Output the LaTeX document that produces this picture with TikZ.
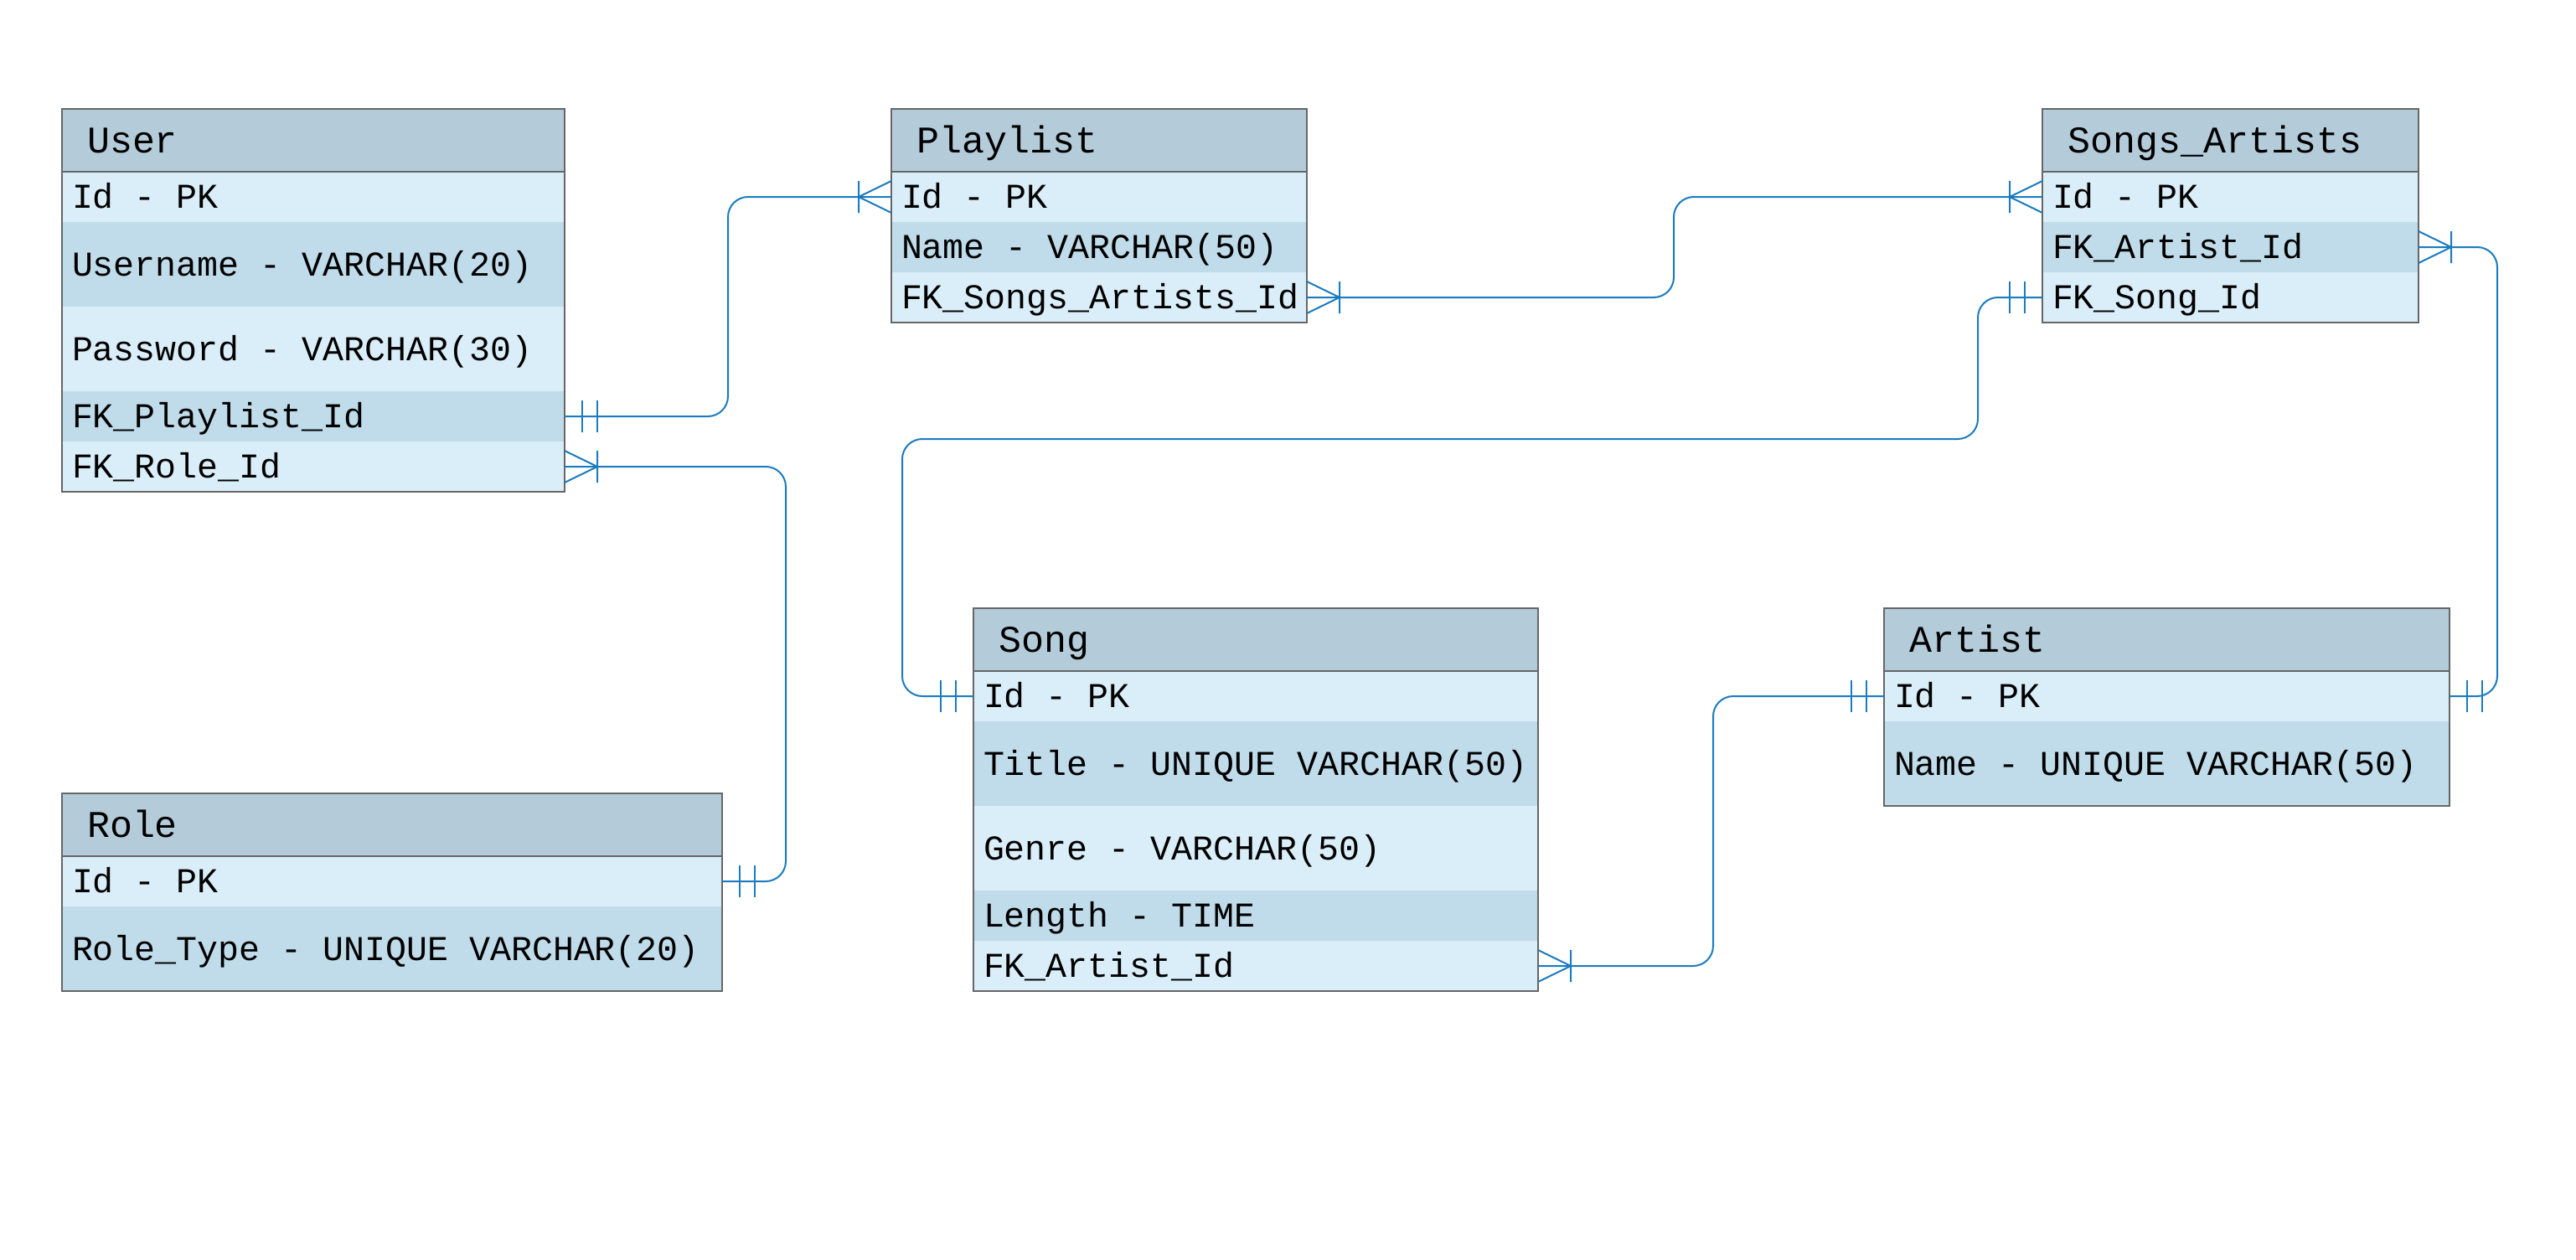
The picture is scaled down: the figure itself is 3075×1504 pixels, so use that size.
\documentclass[tikz,border=0pt]{standalone}
\usepackage{fontspec}
\newfontfamily\ermono{Liberation Mono}
\usetikzlibrary{positioning}

\definecolor{erblue}{HTML}{1A7BBF}
\definecolor{erhead}{HTML}{B4CCDA}
\definecolor{erlight}{HTML}{DAEEF9}
\definecolor{erdark}{HTML}{C0DCEA}
\definecolor{ergray}{HTML}{666666}

\newcommand*{\headsize}{\fontsize{22.5pt}{27pt}\selectfont}
\newcommand*{\rowsize}{\fontsize{20.8pt}{25pt}\selectfont}
\newcommand*{\monospace}{\spaceskip=0.6em\relax\xspaceskip=0.6em\relax}

\begin{document}
\begin{tikzpicture}
[
	x=0.5pt,
	y=-0.5pt,
	tblcell/.style={rectangle,inner sep=0pt,outer sep=0pt,align=flush left,text depth=0pt},
	tblhead/.style={tblcell,anchor=north west,fill=erhead,minimum height=37.5pt,text height=14.9pt,font=\ermono\headsize,execute at begin node={\monospace\hspace*{15pt}}},
	tblrow/.style={tblcell,minimum height=30pt,text height=13.7pt,font=\ermono\rowsize,execute at begin node={\monospace\hspace*{6pt}}},
	litrow/.style={tblrow,fill=erlight},
	drkrow/.style={tblrow,fill=erdark},
	tall/.style={minimum height=50.5pt},
	tblframe/.style={draw=ergray,line width=1.2pt},
	conn/.style={draw=erblue,line width=1pt,rounded corners=12pt},
	endmark/.style={draw=erblue,line width=1pt},
	one/.pic={\draw[endmark] (21,-19) -- (21,19) (39,-19) -- (39,19);},
	many/.pic={\draw[endmark] (0,-19) -- (39,0) -- (0,19) (39,-19) -- (39,19);}
]

	\useasboundingbox (0,0) rectangle (3075,1504);

	% User
	\begin{scope}[every node/.append style={text width=300pt}]
		\node[tblhead] (user) at (74,130) {User};
		\node[litrow,below=0pt of user] (user-id) {Id - PK};
		\node[drkrow,tall,below=0pt of user-id] (user-name) {Username - VARCHAR(20)};
		\node[litrow,tall,below=0pt of user-name] (user-pw) {Password - VARCHAR(30)};
		\node[drkrow,below=0pt of user-pw] (user-fkpl) {FK\_Playlist\_Id};
		\node[litrow,below=0pt of user-fkpl] (user-fkrole) {FK\_Role\_Id};
	\end{scope}

	% Playlist
	\begin{scope}[every node/.append style={text width=248pt}]
		\node[tblhead] (pl) at (1064,130) {Playlist};
		\node[litrow,below=0pt of pl] (pl-id) {Id - PK};
		\node[drkrow,below=0pt of pl-id] (pl-name) {Name - VARCHAR(50)};
		\node[litrow,below=0pt of pl-name] (pl-fk) {FK\_Songs\_Artists\_Id};
	\end{scope}

	% Songs_Artists
	\begin{scope}[every node/.append style={text width=224.5pt}]
		\node[tblhead] (sa) at (2438,130) {Songs\_Artists};
		\node[litrow,below=0pt of sa] (sa-id) {Id - PK};
		\node[drkrow,below=0pt of sa-id] (sa-fkart) {FK\_Artist\_Id};
		\node[litrow,below=0pt of sa-fkart] (sa-fksong) {FK\_Song\_Id};
	\end{scope}

	% Song
	\begin{scope}[every node/.append style={text width=337pt}]
		\node[tblhead] (song) at (1162,726) {Song};
		\node[litrow,below=0pt of song] (song-id) {Id - PK};
		\node[drkrow,tall,below=0pt of song-id] (song-title) {Title - UNIQUE VARCHAR(50)};
		\node[litrow,tall,below=0pt of song-title] (song-genre) {Genre - VARCHAR(50)};
		\node[drkrow,below=0pt of song-genre] (song-len) {Length - TIME};
		\node[litrow,below=0pt of song-len] (song-fkart) {FK\_Artist\_Id};
	\end{scope}

	% Artist
	\begin{scope}[every node/.append style={text width=337.5pt}]
		\node[tblhead] (art) at (2249,726) {Artist};
		\node[litrow,below=0pt of art] (art-id) {Id - PK};
		\node[drkrow,tall,below=0pt of art-id] (art-name) {Name - UNIQUE VARCHAR(50)};
	\end{scope}

	% Role
	\begin{scope}[every node/.append style={text width=394pt}]
		\node[tblhead] (role) at (74,947) {Role};
		\node[litrow,below=0pt of role] (role-id) {Id - PK};
		\node[drkrow,tall,below=0pt of role-id] (role-type) {Role\_Type - UNIQUE VARCHAR(20)};
	\end{scope}

	% frames
	\foreach \t/\last in {user/user-fkrole,pl/pl-fk,sa/sa-fksong,song/song-fkart,art/art-name,role/role-type} {
		\draw[tblframe] (\t.north west) rectangle (\last.south east);
		\draw[tblframe] (\t.south west) -- (\t.south east);
	}

	% relations
	\draw[conn] (user-fkpl.east) -- ++(195,0) |- (pl-id.west);
	\draw[conn] (user-fkrole.east) -- ++(264,0) |- (role-id.east);
	\draw[conn] (pl-fk.east) -- ++(438,0) |- (sa-id.west);
	\coordinate (songbend) at (1077,524);
	\draw[conn] (sa-fksong.west) -- ++(-77,0) |- (songbend) |- (song-id.west);
	\draw[conn] (sa-fkart.east) -- ++(94,0) |- (art-id.east);
	\draw[conn] (song-fkart.east) -- ++(209,0) |- (art-id.west);

	% ends
	\foreach \p in {user-fkpl.east,role-id.east,art-id.east} {
		\pic at (\p) {one};
	}
	\foreach \p in {sa-fksong.west,song-id.west,art-id.west} {
		\pic[xscale=-1] at (\p) {one};
	}
	\foreach \p in {user-fkrole.east,pl-fk.east,sa-fkart.east,song-fkart.east} {
		\pic at (\p) {many};
	}
	\foreach \p in {pl-id.west,sa-id.west} {
		\pic[xscale=-1] at (\p) {many};
	}

\end{tikzpicture}
\end{document}
